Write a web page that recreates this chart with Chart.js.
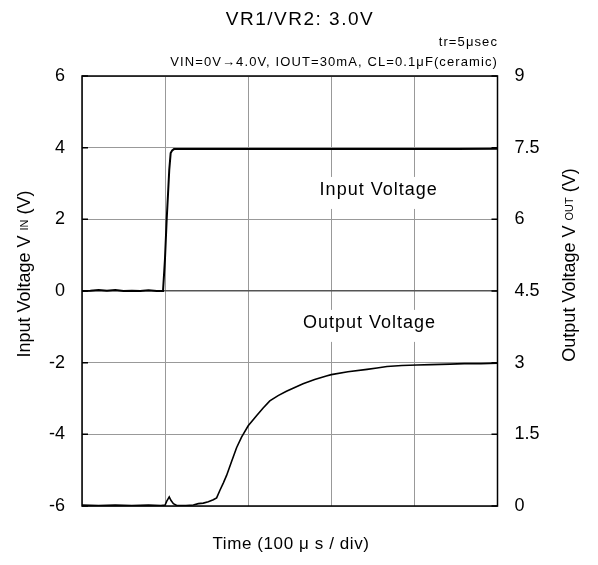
<!DOCTYPE html>
<html><head><meta charset="utf-8">
<script src="https://cdn.jsdelivr.net/npm/chart.js@4.4.0/dist/chart.umd.min.js"></script>
<style>html,body{margin:0;padding:0;background:#fff;} #c{display:block;}</style>
</head><body>
<canvas id="c" width="598" height="565"></canvas>
<script>
const titleText = "VR1/VR2: 3.0V";
const noteLines = ["tr=5μsec", "VIN=0V→4.0V, IOUT=30mA, CL=0.1μF(ceramic)"];
const xTitle = "Time (100 μ s / div)";
const leftTitle = ["Input Voltage V", "IN", "(V)"];
const rightTitle = ["Output Voltage V", "OUT", "(V)"];
const inputLabel = "Input Voltage";
const outputLabel = "Output Voltage";
const leftTicks = [-6, -4, -2, 0, 2, 4, 6];
const rightTicks = [0, 1.5, 3, 4.5, 6, 7.5, 9];
const timeGrid = [0, 100, 200, 300, 400, 500];

// Input voltage (left axis, V) vs time (µs)
const inputTime = [0, 10, 20, 30, 40, 50, 60, 70, 80, 90, 97.5, 99.8, 101.9, 103.5, 105, 106.7, 108.5, 110.7, 150, 200, 250, 300, 350, 400, 450, 500];
const inputVolt = [0, 0.01, 0.03, 0.01, 0.03, 0.0, 0.01, 0.0, 0.02, 0.0, 0.0, 0.87, 2.0, 2.7, 3.38, 3.85, 3.92, 3.96, 3.96, 3.96, 3.96, 3.96, 3.96, 3.96, 3.96, 3.97];

// Output voltage (right axis, V) vs time (µs)
const outputTime = [0, 20, 40, 60, 80, 95, 100, 102, 105, 107, 110, 114, 125, 134, 140, 146, 152, 158, 162, 166, 170, 174, 180, 186, 192, 200, 210, 218, 226, 236, 246, 256, 266, 280, 294, 300, 320, 343, 355, 367, 385, 403, 420, 443, 460, 480, 500];
const outputVolt = [0.02, 0.01, 0.02, 0.01, 0.02, 0.01, 0.02, 0.1, 0.19, 0.12, 0.05, 0.01, 0.01, 0.02, 0.05, 0.06, 0.09, 0.13, 0.17, 0.33, 0.48, 0.64, 0.93, 1.22, 1.44, 1.68, 1.89, 2.05, 2.2, 2.31, 2.4, 2.48, 2.56, 2.65, 2.72, 2.75, 2.81, 2.86, 2.89, 2.92, 2.94, 2.95, 2.96, 2.97, 2.98, 2.98, 2.99];

const FONT = '"Liberation Sans", Arial, sans-serif';

function drawRotated(ctx, parts, cx, cy) {
  ctx.save();
  ctx.translate(cx, cy);
  ctx.rotate(-Math.PI / 2);
  const big = '18px ' + FONT, small = '11px ' + FONT;
  ctx.font = big; const w1 = ctx.measureText(parts[0] + ' ').width;
  ctx.font = small; const w2 = ctx.measureText(parts[1]).width;
  ctx.font = big; const sp = ctx.measureText(' ').width; const w3 = ctx.measureText(parts[2]).width;
  const total = w1 + w2 + sp + w3;
  let x = -total / 2;
  ctx.fillStyle = '#000';
  ctx.textAlign = 'left';
  ctx.textBaseline = 'alphabetic';
  ctx.font = big; ctx.fillText(parts[0] + ' ', x, 6.5); x += w1;
  ctx.font = small; ctx.fillText(parts[1], x, 4.5); x += w2 + sp;
  ctx.font = big; ctx.fillText(parts[2], x, 6.5);
  ctx.restore();
}

const deco = {
  id: 'deco',
  beforeDatasetsDraw(chart) {
    const { ctx, scales: { x, y } } = chart;
    ctx.save();
    ctx.font = '18px ' + FONT;
    ctx.letterSpacing = '1px';
    [[inputLabel, 357, 2.82], [outputLabel, 346, -0.89]].forEach(([t, xv, yv]) => {
      const px = x.getPixelForValue(xv), py = y.getPixelForValue(yv);
      const w = ctx.measureText(t).width;
      ctx.fillStyle = '#fff';
      ctx.fillRect(px - w / 2 - 4, py - 13, w + 8, 32);
      ctx.fillStyle = '#000';
      ctx.textAlign = 'center';
      ctx.textBaseline = 'middle';
      ctx.fillText(t, px, py);
    });
    ctx.restore();
  },
  afterDraw(chart) {
    const { ctx, chartArea: a, scales: { y, y2 } } = chart;
    ctx.save();
    ctx.strokeStyle = '#000';
    ctx.lineWidth = 1.5;
    ctx.strokeRect(a.left, a.top, a.right - a.left, a.bottom - a.top);
    ctx.beginPath();
    leftTicks.forEach(v => { const p = y.getPixelForValue(v); ctx.moveTo(a.left, p); ctx.lineTo(a.left + 6, p); });
    rightTicks.forEach(v => { const p = y2.getPixelForValue(v); ctx.moveTo(a.right, p); ctx.lineTo(a.right - 6, p); });
    ctx.stroke();

    ctx.fillStyle = '#000';
    ctx.textBaseline = 'middle';
    ctx.textAlign = 'center';
    ctx.font = '19px ' + FONT;
    ctx.letterSpacing = '1.5px';
    ctx.fillText(titleText, 300, 20);
    ctx.textAlign = 'right';
    ctx.font = '13px ' + FONT;
    ctx.letterSpacing = '1.1px';
    ctx.fillText(noteLines[0], 498, 42);
    ctx.fillText(noteLines[1], 498, 62);
    ctx.textAlign = 'center';
    ctx.font = '17px ' + FONT;
    ctx.letterSpacing = '0.6px';
    ctx.fillText(xTitle, 291, 544);
    ctx.letterSpacing = '0px';
    ctx.restore();
    drawRotated(ctx, leftTitle, 23, 274);
    drawRotated(ctx, rightTitle, 568, 265);
  }
};

new Chart(document.getElementById('c'), {
  type: 'line',
  data: {
    datasets: [
      { label: 'Input', data: inputTime.map((t, i) => ({ x: t, y: inputVolt[i] })), yAxisID: 'y',
        borderColor: '#000', borderWidth: 2, pointRadius: 0, tension: 0, fill: false },
      { label: 'Output', data: outputTime.map((t, i) => ({ x: t, y: outputVolt[i] })), yAxisID: 'y2',
        borderColor: '#000', borderWidth: 1.6, pointRadius: 0, tension: 0, fill: false }
    ]
  },
  options: {
    responsive: false, animation: false, devicePixelRatio: 1,
    layout: { padding: { top: 76, bottom: 59, left: 0, right: 0 } },
    plugins: { legend: { display: false }, tooltip: { enabled: false }, title: { display: false } },
    scales: {
      x: {
        type: 'linear', min: 0, max: 500,
        afterBuildTicks: s => { s.ticks = timeGrid.map(v => ({ value: v })); },
        ticks: { display: false },
        grid: { color: '#999', lineWidth: 1, drawTicks: false },
        border: { display: false },
        afterFit: s => { s.height = 0; }
      },
      y: {
        position: 'left', min: -6, max: 6,
        afterBuildTicks: s => { s.ticks = leftTicks.map(v => ({ value: v })); },
        ticks: { font: { size: 18, family: FONT }, color: '#000', padding: 17 },
        grid: { color: c => (c.tick && c.tick.value === 0) ? '#555' : '#999', lineWidth: c => (c.tick && c.tick.value === 0) ? 1.5 : 1, drawTicks: false },
        border: { display: false },
        afterFit: s => { s.width = 82; }
      },
      y2: {
        position: 'right', min: 0, max: 9,
        afterBuildTicks: s => { s.ticks = rightTicks.map(v => ({ value: v })); },
        ticks: { font: { size: 18, family: FONT }, color: '#000', padding: 17 },
        grid: { display: false, drawTicks: false },
        border: { display: false },
        afterFit: s => { s.width = 100.5; }
      }
    }
  },
  plugins: [deco]
});
</script>
</body></html>
